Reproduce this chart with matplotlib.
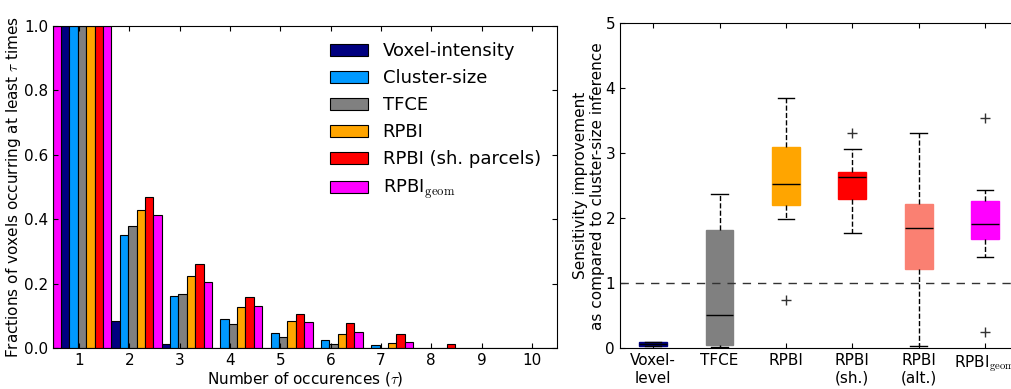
import numpy as np
import matplotlib
matplotlib.use('Agg')
import matplotlib.pyplot as plt

plt.rcParams['mathtext.fontset'] = 'cm'
plt.rcParams['xtick.direction'] = 'in'
plt.rcParams['ytick.direction'] = 'in'
plt.rcParams['xtick.top'] = True
plt.rcParams['ytick.right'] = True
plt.rcParams['font.size'] = 11

# left panel: fraction of voxels occurring at least tau times
taus = np.arange(0, 11)
methods = ['Voxel-intensity', 'Cluster-size', 'TFCE', 'RPBI',
           'RPBI (sh. parcels)', r'RPBI$_{\mathrm{geom}}$']
colors = ['#000080', '#0099ff', '#808080', '#ffa500', '#ff0000', '#ff00ff']
voxel_intensity = [1.0, 1.0, 0.086, 0.013, 0.0, 0.0, 0.0, 0.0, 0.0, 0.0, 0.0]
cluster_size = [1.0, 1.0, 0.350, 0.161, 0.090, 0.048, 0.027, 0.010, 0.001, 0.0, 0.0]
tfce = [1.0, 1.0, 0.381, 0.169, 0.074, 0.035, 0.012, 0.002, 0.001, 0.0, 0.0]
rpbi = [1.0, 1.0, 0.430, 0.223, 0.129, 0.085, 0.045, 0.015, 0.001, 0.0, 0.0]
rpbi_sh = [1.0, 1.0, 0.468, 0.263, 0.160, 0.106, 0.080, 0.043, 0.013, 0.0, 0.0]
rpbi_geom = [1.0, 1.0, 0.414, 0.207, 0.131, 0.081, 0.051, 0.021, 0.002, 0.0, 0.0]
series = [voxel_intensity, cluster_size, tfce, rpbi, rpbi_sh, rpbi_geom]

# right panel: sensitivity improvement boxplots
box_labels = ['Voxel-\nlevel', 'TFCE', 'RPBI', 'RPBI\n(sh.)', 'RPBI\n(alt.)',
              r'RPBI$_{\mathrm{geom}}$']
box_colors = ['#000080', '#808080', '#ffa500', '#ff0000', '#fa8072', '#ff00ff']
box_q1 = [0.04, 0.05, 2.21, 2.29, 1.22, 1.68]
box_med = [0.06, 0.51, 2.53, 2.63, 1.85, 1.92]
box_q3 = [0.09, 1.82, 3.10, 2.72, 2.22, 2.27]
box_lo = [0.03, 0.02, 1.99, 1.78, 0.03, 1.41]
box_hi = [0.10, 2.37, 3.85, 3.06, 3.32, 2.43]
box_fliers = [[], [], [0.74], [3.32], [], [3.55, 0.25]]

fig = plt.figure(figsize=(10.12, 3.89), dpi=100)
ax1 = fig.add_axes([0.0524, 0.1046, 0.498, 0.8286])
ax2 = fig.add_axes([0.6126, 0.1046, 0.3935, 0.8355])

w = 1.0 / 6
for i, (vals, c, lab) in enumerate(zip(series, colors, methods)):
    ax1.bar(taus - 0.36 + i * w, vals, w, align='edge', color=c,
            edgecolor='black', linewidth=0.8, label=lab)
ax1.set_xlim(0.48, 10.5)
ax1.set_ylim(0, 1.0)
ax1.set_xticks(range(1, 11))
ax1.set_yticks(np.arange(0, 1.01, 0.2))
ax1.set_xlabel(r'Number of occurences ($\tau$)', labelpad=1)
ax1.set_ylabel(r'Fractions of voxels occurring at least $\tau$ times',
               labelpad=1)
ax1.legend(loc='upper right', bbox_to_anchor=(1.0, 1.0), frameon=False,
           fontsize=13, handlelength=2.1, handleheight=0.7, labelspacing=0.5,
           handletextpad=0.8)

stats = []
for lab, q1, med, q3, lo, hi, fl in zip(box_labels, box_q1, box_med, box_q3,
                                         box_lo, box_hi, box_fliers):
    stats.append({'label': lab, 'q1': q1, 'med': med, 'q3': q3,
                  'whislo': lo, 'whishi': hi, 'fliers': fl})
bp = ax2.bxp(stats, widths=0.42, capwidths=0.25, patch_artist=True,
             medianprops=dict(color='black', linewidth=1),
             whiskerprops=dict(color='black', linestyle='--', linewidth=1),
             capprops=dict(color='black', linewidth=1),
             flierprops=dict(marker='+', markeredgecolor='#333333', markersize=7))
for patch, c in zip(bp['boxes'], box_colors):
    patch.set_facecolor(c)
    patch.set_edgecolor(c)
ax2.axhline(1, color='#333333', linestyle='--', linewidth=1, dashes=(6, 5))
ax2.set_xlim(0.5, 6.5)
ax2.set_ylim(0, 5)
ax2.set_yticks(range(0, 6))
ax2.set_ylabel('Sensitivity improvement\nas compared to cluster-size inference',
               labelpad=0)

fig.savefig('out.png', dpi=100)
